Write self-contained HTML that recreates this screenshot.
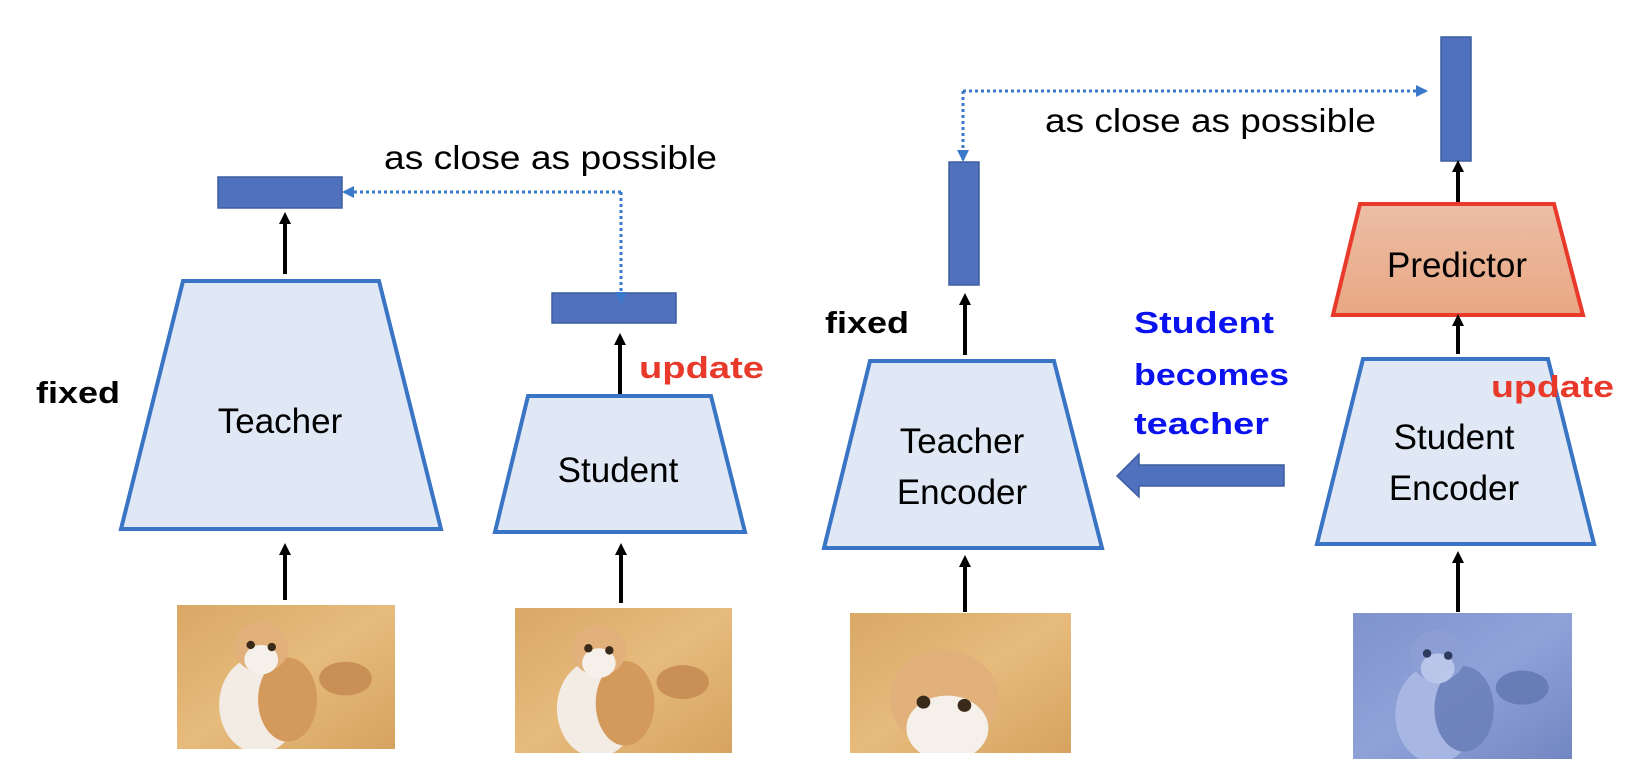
<!DOCTYPE html>
<html><head><meta charset="utf-8"><style>
html,body{margin:0;padding:0;background:#fff;}
svg{display:block;}
text{font-family:"Liberation Sans",sans-serif;}
</style></head><body>
<svg width="1642" height="780" viewBox="0 0 1642 780" xmlns="http://www.w3.org/2000/svg">
<defs>
<marker id="ah" markerWidth="12" markerHeight="12" refX="6" refY="6" orient="auto" markerUnits="userSpaceOnUse"><path d="M0,0 L12,6 L0,12 z" fill="#000"/></marker>
<marker id="bh" markerWidth="12" markerHeight="12" refX="10" refY="6" orient="auto" markerUnits="userSpaceOnUse"><path d="M0,0 L12,6 L0,12 z" fill="#3a78c9"/></marker>
<linearGradient id="pg" x1="0" y1="0" x2="0" y2="1"><stop offset="0" stop-color="#ecbea6"/><stop offset="1" stop-color="#e9a783"/></linearGradient>
<linearGradient id="wood" x1="0" y1="0" x2="1" y2="1"><stop offset="0" stop-color="#d9a866"/><stop offset="0.5" stop-color="#e6bb7c"/><stop offset="1" stop-color="#d6a35f"/></linearGradient>
<linearGradient id="bwood" x1="0" y1="0" x2="1" y2="1"><stop offset="0" stop-color="#7f93cc"/><stop offset="0.5" stop-color="#8fa2d8"/><stop offset="1" stop-color="#7286c2"/></linearGradient>
<g id="cat">
<ellipse cx="78" cy="95" rx="38" ry="46" fill="#f3ece4"/>
<ellipse cx="105" cy="90" rx="28" ry="40" fill="#d49a5c"/>
<ellipse cx="160" cy="70" rx="25" ry="16" fill="#c98f55"/>
<ellipse cx="80" cy="40" rx="26" ry="24" fill="#e2b07a"/>
<ellipse cx="80" cy="52" rx="16" ry="14" fill="#f6f0ea"/>
<circle cx="70" cy="38" r="4" fill="#3a2a1a"/><circle cx="90" cy="40" r="4" fill="#3a2a1a"/>
</g>
</defs>

<!-- LEFT PART -->
<rect x="218" y="177" width="124" height="31" fill="#4f71be" stroke="#3d5e9f" stroke-width="1.5"/>
<rect x="552" y="293" width="124" height="30" fill="#4f71be" stroke="#3d5e9f" stroke-width="1.5"/>
<text x="384" y="169" font-size="33" textLength="333" lengthAdjust="spacingAndGlyphs">as close as possible</text>
<polyline points="621,192 344,192" fill="none" stroke="#3a78c9" stroke-width="3" stroke-dasharray="3,3" marker-end="url(#bh)"/>
<polyline points="621,192 621,302" fill="none" stroke="#3a78c9" stroke-width="3" stroke-dasharray="3,3" marker-end="url(#bh)"/>

<line x1="285" y1="274" x2="285" y2="218" stroke="#000" stroke-width="4" marker-end="url(#ah)"/>
<polygon points="183,281 379,281 441,529 121,529" fill="#dfe8f4" stroke="#3a74c4" stroke-width="4"/>
<text x="280" y="433" font-size="35" text-anchor="middle">Teacher</text>
<text x="36" y="403" font-size="31" font-weight="bold" textLength="84" lengthAdjust="spacingAndGlyphs">fixed</text>
<line x1="285" y1="600" x2="285" y2="549" stroke="#000" stroke-width="4" marker-end="url(#ah)"/>
<svg x="177" y="605" width="218" height="144" viewBox="0 0 207 137" preserveAspectRatio="none"><rect width="207" height="137" fill="url(#wood)"/><use href="#cat"/></svg>

<line x1="620" y1="395" x2="620" y2="339" stroke="#000" stroke-width="4" marker-end="url(#ah)"/>
<text x="639" y="378" font-size="31" font-weight="bold" fill="#e8392a" textLength="125" lengthAdjust="spacingAndGlyphs">update</text>
<polygon points="528,396 711,396 745,532 495,532" fill="#dfe8f4" stroke="#3a74c4" stroke-width="4"/>
<text x="618" y="482" font-size="35" text-anchor="middle">Student</text>
<line x1="621" y1="603" x2="621" y2="549" stroke="#000" stroke-width="4" marker-end="url(#ah)"/>
<svg x="515" y="608" width="217" height="145" viewBox="0 0 207 137" preserveAspectRatio="none"><rect width="207" height="137" fill="url(#wood)"/><use href="#cat"/></svg>

<!-- RIGHT PART -->
<rect x="1441" y="37" width="30" height="124" fill="#4f71be" stroke="#3d5e9f" stroke-width="1.5"/>
<rect x="949" y="162" width="30" height="123" fill="#4f71be" stroke="#3d5e9f" stroke-width="1.5"/>
<polyline points="963,91 1426,91" fill="none" stroke="#3a78c9" stroke-width="3" stroke-dasharray="3,3" marker-end="url(#bh)"/>
<polyline points="963,91 963,160" fill="none" stroke="#3a78c9" stroke-width="3" stroke-dasharray="3,3" marker-end="url(#bh)"/>
<text x="1045" y="132" font-size="33" textLength="331" lengthAdjust="spacingAndGlyphs">as close as possible</text>

<text x="825" y="333" font-size="31" font-weight="bold" textLength="84" lengthAdjust="spacingAndGlyphs">fixed</text>
<line x1="965" y1="355" x2="965" y2="299" stroke="#000" stroke-width="4" marker-end="url(#ah)"/>
<polygon points="870,361 1054,361 1102,548 824,548" fill="#dfe8f4" stroke="#3a74c4" stroke-width="4"/>
<text x="962" y="453" font-size="35" text-anchor="middle">Teacher</text>
<text x="962" y="504" font-size="35" text-anchor="middle">Encoder</text>
<line x1="965" y1="612" x2="965" y2="561" stroke="#000" stroke-width="4" marker-end="url(#ah)"/>
<svg x="850" y="613" width="221" height="140" viewBox="0 0 207 137" preserveAspectRatio="none"><rect width="207" height="137" fill="url(#wood)"/><g transform="translate(-40,20) scale(1.6)"><ellipse cx="80" cy="40" rx="32" ry="30" fill="#e2b07a"/><ellipse cx="82" cy="58" rx="24" ry="20" fill="#f6f0ea"/><circle cx="68" cy="42" r="4" fill="#3a2a1a"/><circle cx="92" cy="44" r="4" fill="#3a2a1a"/></g></svg>

<text x="1134" y="333" font-size="31" font-weight="bold" fill="#0a12f0" textLength="140" lengthAdjust="spacingAndGlyphs">Student</text>
<text x="1134" y="385" font-size="31" font-weight="bold" fill="#0a12f0" textLength="155" lengthAdjust="spacingAndGlyphs">becomes</text>
<text x="1134" y="434" font-size="31" font-weight="bold" fill="#0a12f0" textLength="135" lengthAdjust="spacingAndGlyphs">teacher</text>
<polygon points="1284,465 1284,486 1139,486 1139,497 1117,476 1139,454 1139,465" fill="#4f71be" stroke="#3d5e9f" stroke-width="1.5"/>

<line x1="1458" y1="203" x2="1458" y2="166" stroke="#000" stroke-width="4" marker-end="url(#ah)"/>
<polygon points="1360,204 1554,204 1583,315 1333,315" fill="url(#pg)" stroke="#e8392a" stroke-width="4"/>
<text x="1457" y="277" font-size="35" text-anchor="middle">Predictor</text>
<line x1="1458" y1="354" x2="1458" y2="320" stroke="#000" stroke-width="4" marker-end="url(#ah)"/>
<polygon points="1363,359 1548,359 1594,544 1317,544" fill="#dfe8f4" stroke="#3a74c4" stroke-width="4"/>
<text x="1454" y="449" font-size="35" text-anchor="middle">Student</text>
<text x="1454" y="500" font-size="35" text-anchor="middle">Encoder</text>
<text x="1491" y="397" font-size="31" font-weight="bold" fill="#e8392a" textLength="123" lengthAdjust="spacingAndGlyphs">update</text>
<line x1="1458" y1="612" x2="1458" y2="557" stroke="#000" stroke-width="4" marker-end="url(#ah)"/>
<svg x="1353" y="613" width="219" height="146" viewBox="0 0 207 137" preserveAspectRatio="none"><rect width="207" height="137" fill="url(#bwood)"/><g opacity="0.85"><ellipse cx="78" cy="95" rx="38" ry="46" fill="#aebbe6"/><ellipse cx="105" cy="90" rx="28" ry="40" fill="#6b7fb9"/><ellipse cx="160" cy="70" rx="25" ry="16" fill="#6377b2"/><ellipse cx="80" cy="40" rx="26" ry="24" fill="#8d9fd3"/><ellipse cx="80" cy="52" rx="16" ry="14" fill="#c2cdee"/><circle cx="70" cy="38" r="4" fill="#1f2a4a"/><circle cx="90" cy="40" r="4" fill="#1f2a4a"/></g></svg>
</svg>
</body></html>
